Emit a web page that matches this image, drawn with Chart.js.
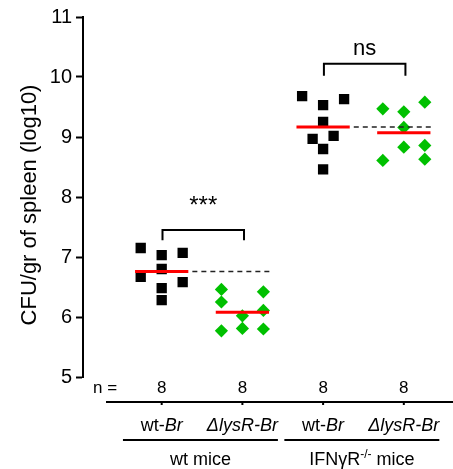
<!DOCTYPE html>
<html>
<head>
<meta charset="utf-8">
<script src="https://cdn.jsdelivr.net/npm/chart.js@4"></script>
<style>
html, body { margin: 0; padding: 0; background: #fff; }
#wrap { width: 453px; height: 469px; position: relative; }
</style>
</head>
<body>
<div id="wrap"><canvas id="cfu-chart"></canvas></div>
<script>
const categories = ['wt-Br', '\u0394lysR-Br', 'wt-Br', '\u0394lysR-Br'];
const groups = ['wt mice', 'IFN\u03b3R-/- mice'];
const groupCats = [[1, 2], [3, 4]];
const nCounts = [8, 8, 8, 8];

// log10 CFU per mouse; slot = horizontal jitter position of the point
const wtMiceWtBr = [7.15, 7.03, 7.07, 6.80, 6.67, 6.58, 6.48, 6.28];
const wtMiceWtBrSlot = [-2, 0, 2, 0, -2, 2, 0, 0];
const wtMiceLysR = [6.46, 6.42, 6.25, 6.02, 6.11, 5.77, 5.81, 5.80];
const wtMiceLysRSlot = [-2, 2, -2, 0, 2, -2, 0, 2];
const ifnrWtBr = [9.68, 9.63, 9.53, 9.25, 8.97, 9.02, 8.80, 8.46];
const ifnrWtBrSlot = [-2, 2, 0, 0, -1, 1, 0, 0];
const ifnrLysR = [9.47, 9.42, 9.58, 9.16, 8.83, 8.86, 8.61, 8.63];
const ifnrLysRSlot = [-2, 0, 2, 0, 0, 2, -2, 2];

const significance = ['***', 'ns'];
const yTitle = 'CFU/gr of spleen (log10)';

const FONT = 'Liberation Sans, Arial, sans-serif';
const SLOT = 0.13;

function points(cat, vals, slots) {
    return vals.map((v, i) => ({ x: cat + slots[i] * SLOT, y: v }));
}
function mean(vals) {
    return vals.reduce((a, b) => a + b, 0) / vals.length;
}
function meanLine(cat, vals) {
    const m = mean(vals);
    return {
        data: [{ x: cat - 0.33, y: m }, { x: cat + 0.33, y: m }],
        showLine: true, borderColor: '#ff0000', borderWidth: 3,
        pointRadius: 0, order: 1
    };
}
function refLine(cat, vals, end) {
    const m = mean(vals);
    return {
        data: [{ x: cat + 0.38, y: m }, { x: end, y: m }],
        showLine: true, borderColor: '#222', borderWidth: 1.5,
        borderDash: [5, 4], pointRadius: 0, order: 1
    };
}
function squares(data) {
    return { data: data, pointStyle: 'rect', pointRadius: 7.3,
        backgroundColor: '#000', borderWidth: 0, order: 2 };
}
function diamonds(data) {
    return { data: data, pointStyle: 'rectRot', pointRadius: 6.6,
        backgroundColor: '#00c000', borderWidth: 0, order: 2 };
}

function drawParts(ctx, parts, cx, by) {
    let total = 0;
    parts.forEach(p => { ctx.font = p.font; p.w = ctx.measureText(p.t).width; total += p.w; });
    let x = cx - total / 2;
    ctx.textAlign = 'left';
    ctx.textBaseline = 'alphabetic';
    parts.forEach(p => {
        ctx.font = p.font;
        ctx.fillText(p.t, x, by + (p.dy || 0));
        x += p.w;
    });
}
function catParts(label) {
    if (label.startsWith('wt-')) {
        return [{ t: 'wt-', font: '18px ' + FONT }, { t: label.slice(3), font: 'italic 18px ' + FONT }];
    }
    return [{ t: label, font: 'italic 18px ' + FONT }];
}
function groupParts(label) {
    const i = label.indexOf('-/-');
    if (i < 0) return [{ t: label, font: '18px ' + FONT }];
    return [
        { t: label.slice(0, i), font: '18px ' + FONT },
        { t: '-/-', font: '12px ' + FONT, dy: -7 },
        { t: label.slice(i + 3), font: '18px ' + FONT }
    ];
}

const extras = {
    id: 'extras',
    afterDraw(chart) {
        const ctx = chart.ctx;
        const xs = chart.scales.x, ys = chart.scales.y;
        const px = v => xs.getPixelForValue(v);
        const py = v => ys.getPixelForValue(v);
        ctx.save();
        ctx.fillStyle = '#000';
        ctx.strokeStyle = '#000';

        // y title
        ctx.save();
        ctx.translate(36, 205);
        ctx.rotate(-Math.PI / 2);
        ctx.font = '22px ' + FONT;
        ctx.textAlign = 'center';
        ctx.textBaseline = 'alphabetic';
        ctx.fillText(yTitle, 0, 0);
        ctx.restore();

        // significance brackets
        const brackets = [
            { a: 1, b: 2, top: 7.45, foot: 7.28, text: significance[0], size: 24, base: 213 },
            { a: 3, b: 4, top: 10.22, foot: 10.02, text: significance[1], size: 22, base: 55 }
        ];
        ctx.lineWidth = 2;
        brackets.forEach(br => {
            const x1 = px(br.a + 0.01), x2 = px(br.b + 0.02);
            ctx.beginPath();
            ctx.moveTo(x1, py(br.foot));
            ctx.lineTo(x1, py(br.top));
            ctx.lineTo(x2, py(br.top));
            ctx.lineTo(x2, py(br.foot));
            ctx.stroke();
            ctx.font = br.size + 'px ' + FONT;
            ctx.textAlign = 'center';
            ctx.textBaseline = 'alphabetic';
            ctx.fillText(br.text, (x1 + x2) / 2, br.base);
        });

        // n = row
        ctx.font = '17px ' + FONT;
        ctx.textAlign = 'left';
        ctx.fillText('n =', 93, 393);
        ctx.textAlign = 'center';
        nCounts.forEach((n, i) => ctx.fillText(String(n), px(i + 1), 393));

        // bottom axis line with ticks
        ctx.lineWidth = 2;
        ctx.beginPath();
        ctx.moveTo(px(0.31), 402);
        ctx.lineTo(chart.width, 402);
        ctx.stroke();
        categories.forEach((c, i) => {
            ctx.beginPath();
            ctx.moveTo(px(i + 1), 402);
            ctx.lineTo(px(i + 1), 405);
            ctx.stroke();
        });

        // category labels
        categories.forEach((c, i) => drawParts(ctx, catParts(c), px(i + 1), 431));

        // group lines and labels
        groups.forEach((g, i) => {
            const [a, b] = groupCats[i];
            const x1 = px(a - 0.48), x2 = px(b + 0.44);
            ctx.lineWidth = 2;
            ctx.beginPath();
            ctx.moveTo(x1, 440);
            ctx.lineTo(x2, 440);
            ctx.stroke();
            drawParts(ctx, groupParts(g), (x1 + x2) / 2, 465);
        });
        ctx.restore();
    }
};

const config = {
    type: 'scatter',
    data: {
        datasets: [
            meanLine(1, wtMiceWtBr),
            meanLine(2, wtMiceLysR),
            meanLine(3, ifnrWtBr),
            meanLine(4, ifnrLysR),
            refLine(1, wtMiceWtBr, 2.38),
            refLine(3, ifnrWtBr, 4.35),
            squares(points(1, wtMiceWtBr, wtMiceWtBrSlot)),
            diamonds(points(2, wtMiceLysR, wtMiceLysRSlot)),
            squares(points(3, ifnrWtBr, ifnrWtBrSlot)),
            diamonds(points(4, ifnrLysR, ifnrLysRSlot))
        ]
    },
    options: {
        responsive: true,
        maintainAspectRatio: false,
        animation: false,
        layout: { padding: { left: 0, top: 17, right: 0, bottom: 92 } },
        plugins: { legend: { display: false }, tooltip: { enabled: false } },
        scales: {
            x: { type: 'linear', min: 0.025, max: 4.519, display: false },
            y: {
                min: 5, max: 11,
                afterFit: s => { s.width = 83; },
                ticks: { stepSize: 1, color: '#000', padding: 4, font: { size: 20, family: FONT } },
                grid: { drawOnChartArea: false, drawTicks: true, tickLength: 7, tickWidth: 2, tickColor: '#000' },
                border: { display: true, color: '#000', width: 2 }
            }
        }
    },
    plugins: [extras]
};

const myChart = new Chart(document.getElementById('cfu-chart'), config);
</script>
</body>
</html>
